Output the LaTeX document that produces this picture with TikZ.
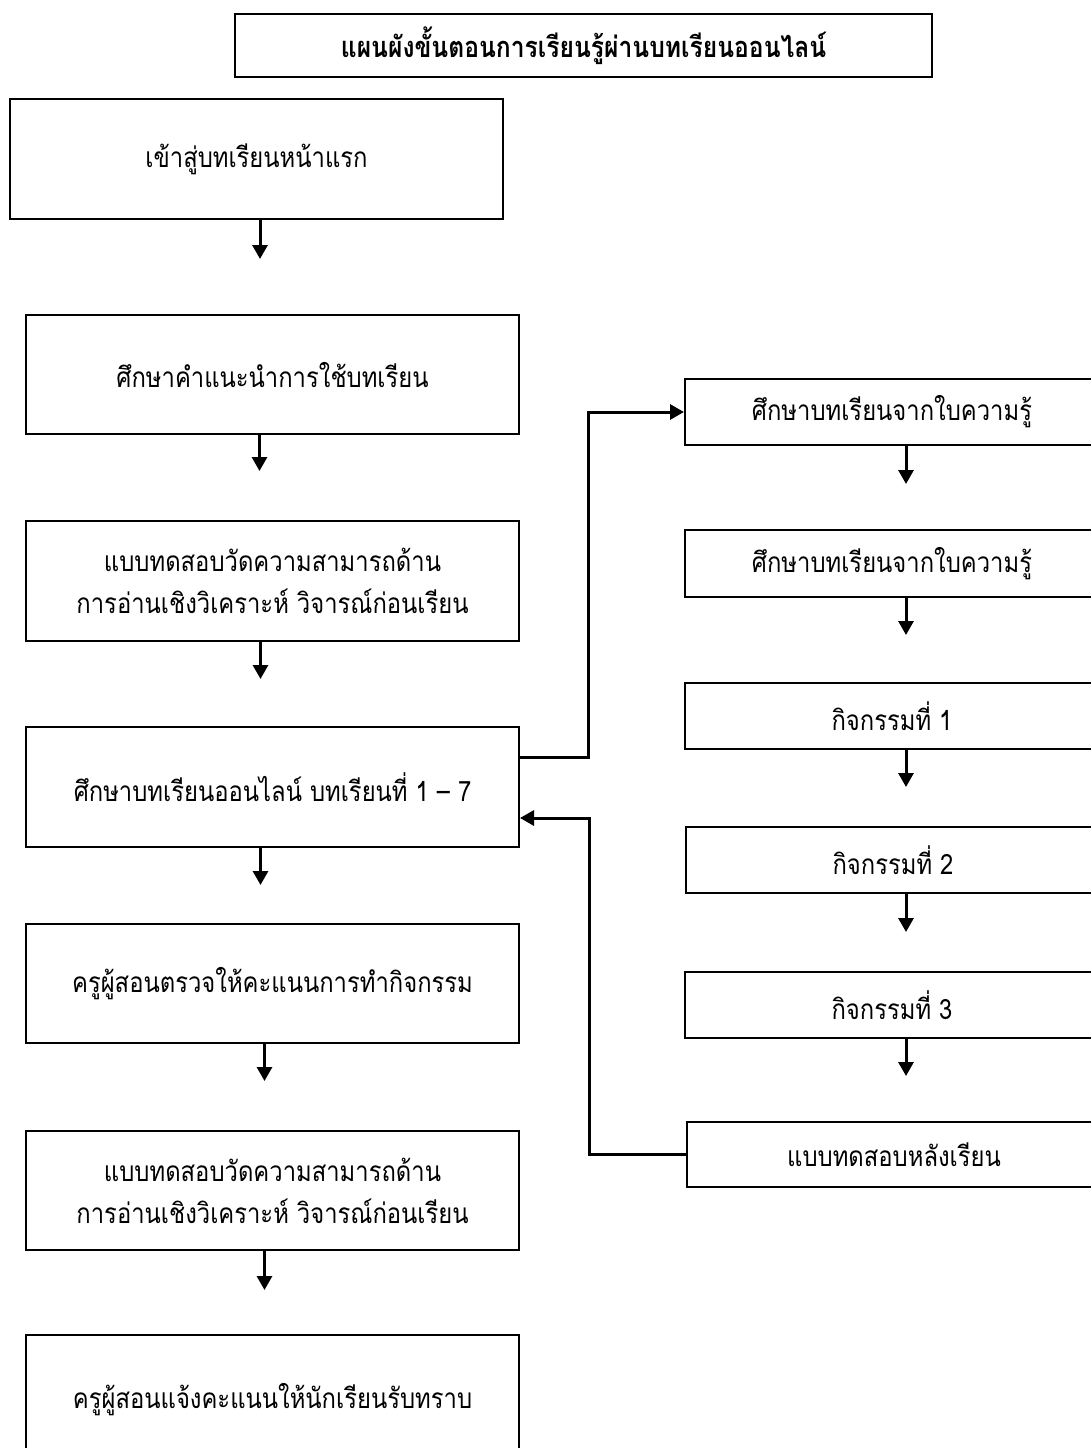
\documentclass[tikz,border=0pt]{standalone}
\usepackage{fontspec}
\newfontfamily\thaifont[Script=Thai,FakeStretch=0.85]{Loma}
\usetikzlibrary{arrows.meta}
\begin{document}
\begin{tikzpicture}[x=1pt,y=1pt,
  every node/.style={font=\thaifont\fontsize{28}{42}\selectfont},
  box/.style={draw, line width=2pt, align=center, inner sep=0pt, minimum width=493pt, minimum height=120pt},
  rbox/.style={draw, line width=2pt, align=center, inner sep=0pt, minimum width=414pt, minimum height=66pt},
  arr/.style={line width=3pt, -{Triangle[width=15pt,length=14pt]}}]
\useasboundingbox (0,0) rectangle (1091,-1448);
\clip (0,0) rectangle (1091,-1448);
\fill[white] (0,0) rectangle (1091,-1448);
% title
\node[draw, line width=1.6pt, minimum width=697pt, minimum height=63pt, inner sep=0pt,
  font=\thaifont\bfseries\fontsize{29}{32}\selectfont] (t) at (583.5,-45.5) {แผนผังขั้นตอนการเรียนรู้ผ่านบทเรียนออนไลน์};
% left column
\node[box] (b1) at (256.5,-159) {เข้าสู่บทเรียนหน้าแรก};
\node[box, minimum height=119pt] (b2) at (272.5,-374.5) {ศึกษาคำแนะนำการใช้บทเรียน};
\node[box] (b3) at (272.5,-581) {แบบทดสอบวัดความสามารถด้าน\\การอ่านเชิงวิเคราะห์ วิจารณ์ก่อนเรียน};
\node[box] (b4) at (272.5,-787) {ศึกษาบทเรียนออนไลน์ บทเรียนที่ 1 – 7};
\node[box, minimum height=119pt] (b5) at (272.5,-983.5) {ครูผู้สอนตรวจให้คะแนนการทำกิจกรรม};
\node[box, minimum height=119pt] (b6) at (272.5,-1190.5) {แบบทดสอบวัดความสามารถด้าน\\การอ่านเชิงวิเคราะห์ วิจารณ์ก่อนเรียน};
\node[box, minimum height=130pt] (b7) at (272.5,-1400) {ครูผู้สอนแจ้งคะแนนให้นักเรียนรับทราบ};
% right column
\node[rbox] (r1) at (892,-412) {ศึกษาบทเรียนจากใบความรู้};
\node[rbox, minimum height=67pt] (r2) at (892,-563.5) {ศึกษาบทเรียนจากใบความรู้};
\node[rbox] (r3) at (892,-716) {กิจกรรมที่ 1};
\node[rbox] (r4) at (893,-860) {กิจกรรมที่ 2};
\node[rbox] (r5) at (892,-1005) {กิจกรรมที่ 3};
\node[rbox, minimum height=65pt] (r6) at (894,-1154.5) {แบบทดสอบหลังเรียน};
% left arrows
\draw[arr] ([xshift=3.5pt]b1.south) -- ++(0,-39);
\draw[arr] ([xshift=-13pt]b2.south) -- ++(0,-36);
\draw[arr] ([xshift=-12pt]b3.south) -- ++(0,-37);
\draw[arr] ([xshift=-12pt]b4.south) -- ++(0,-37);
\draw[arr] ([xshift=-8pt]b5.south) -- ++(0,-37);
\draw[arr] ([xshift=-8pt]b6.south) -- ++(0,-39);
% right arrows
\draw[arr] ([xshift=14pt]r1.south) -- ++(0,-38);
\draw[arr] ([xshift=14pt]r2.south) -- ++(0,-37);
\draw[arr] ([xshift=14pt]r3.south) -- ++(0,-37);
\draw[arr] ([xshift=13pt]r4.south) -- ++(0,-38);
\draw[arr] ([xshift=14pt]r5.south) -- ++(0,-37);
% loop connectors
\coordinate (c1) at (588,-757);
\coordinate (c2) at (589,-818);
\draw[arr] (b4.east |- c1) -- (c1) |- (r1.west);
\draw[arr] (r6.west) -| (c2) -- (b4.east |- c2);
\end{tikzpicture}
\end{document}
